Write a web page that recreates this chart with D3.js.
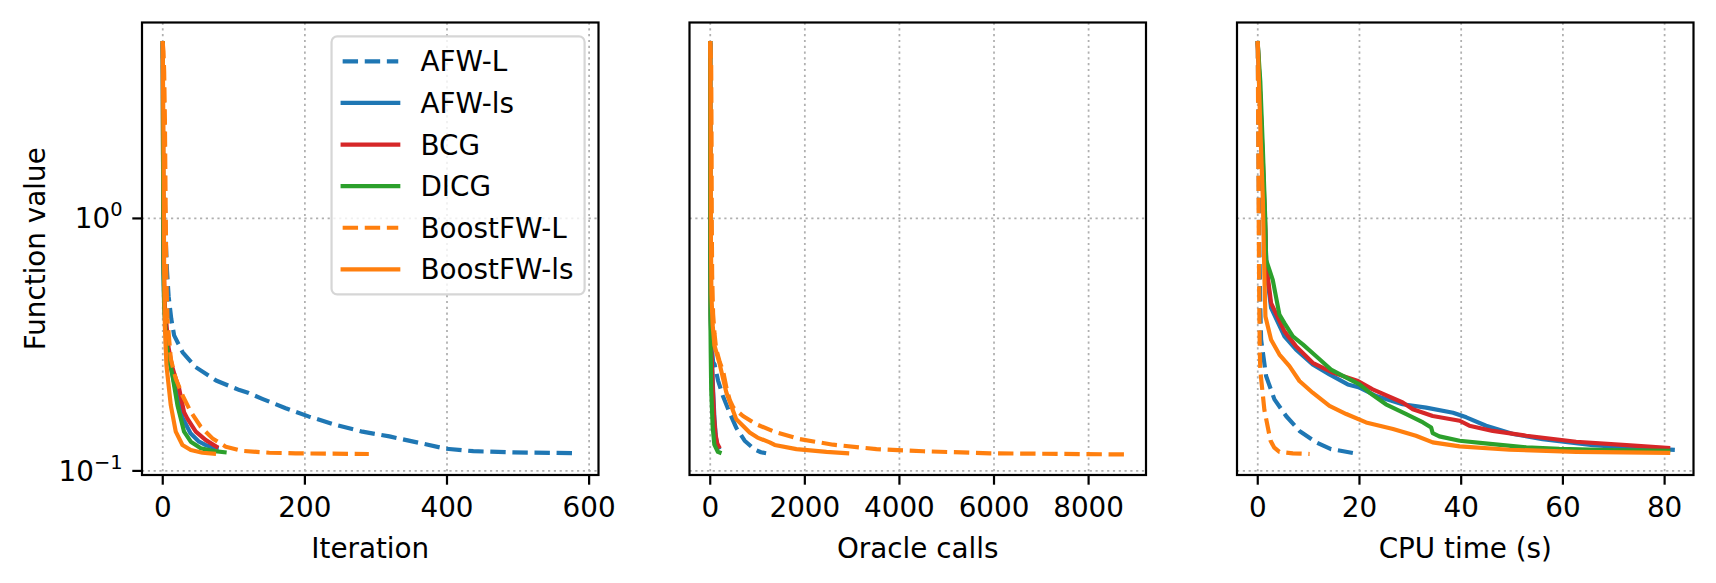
<!DOCTYPE html>
<html><head><meta charset="utf-8">
<script src="https://cdn.jsdelivr.net/npm/d3@7"></script>
<style>
body{margin:0;background:#fff}
svg{display:block}
text{font-family:"DejaVu Sans",sans-serif;fill:#000}
</style>
</head><body>
<svg id="c" width="1716" height="583"></svg>
<script>
// ---------------- data ----------------
const seriesNames  = ["AFW-L","AFW-ls","BCG","DICG","BoostFW-L","BoostFW-ls"];
const seriesColors = ["#1f77b4","#1f77b4","#d62728","#2ca02c","#ff7f0e","#ff7f0e"];
const seriesDashed = [true,false,false,false,true,false];

// Panel 1: function value vs iteration
const afwL_iter = [[0,4.95],[1,2.6],[2,1.6],[4,0.85],[6,0.62],[8.3,0.49],[12,0.40],[16,0.344],[28,0.295],[46,0.258],[75,0.228],[108,0.209],[120,0.204],[140,0.193],[173,0.177],[206,0.164],[244,0.152],[281,0.143],[319,0.137],[356,0.130],[398,0.1225],[437,0.1197],[493,0.1184],[584,0.1175]];
const afwLs_iter = [[0,4.95],[0.5,1.3],[1,0.6],[2,0.45],[4,0.36],[8,0.29],[13,0.245],[18,0.21],[23,0.183],[28,0.162],[39,0.141],[51,0.1305],[62,0.126],[68,0.1245],[76,0.1236]];
const bcg_iter = [[0,4.95],[0.5,1.5],[1,0.69],[3,0.45],[8,0.31],[13,0.26],[18.3,0.232],[23,0.212],[30,0.171],[34.7,0.161],[46.5,0.143],[60.6,0.1324],[75.6,0.1247]];
const dicg_iter = [[0,4.95],[0.5,1.4],[1,0.65],[2,0.45],[4,0.36],[6,0.31],[8.9,0.278],[13.6,0.239],[20.7,0.182],[30,0.143],[39.4,0.1305],[53.5,0.1229],[70,0.12],[87,0.1185]];
const boostL_iter = [[0,4.95],[1,4.6],[2,3.8],[3,2.5],[4,1.2],[5,0.6],[6.6,0.4],[11.3,0.278],[18.3,0.232],[27.7,0.1994],[39.4,0.1714],[53.5,0.1496],[70,0.1345],[88.7,0.1247],[112,0.12],[150,0.118],[187,0.1174],[234,0.117],[290,0.1167]];
const boostLs_iter = [[0,4.95],[1,2.0],[2,0.6],[3,0.37],[5.2,0.262],[11.3,0.182],[18.3,0.143],[27.7,0.1266],[39.4,0.121],[55.9,0.118],[72,0.117]];

// Panel 2: function value vs oracle calls
const afwL_oracle = [[0,4.95],[10,2.0],[20,0.9],[30,0.5],[40,0.3],[60,0.27],[92,0.264],[165,0.228],[268,0.198],[410,0.170],[551,0.148],[727,0.1317],[939,0.1215],[1072,0.1185],[1181,0.1175]];
const afwLs_oracle = [[0,4.95],[2,0.6],[10,0.4],[30,0.3],[60,0.21],[90,0.16],[120,0.135],[150,0.126],[175,0.1236]];
const bcg_oracle = [[0,4.95],[2,0.69],[10,0.42],[25,0.3],[50,0.22],[80,0.165],[110,0.14],[150,0.128],[182,0.1247]];
const dicg_oracle = [[0,4.95],[1,0.65],[3,0.41],[10,0.295],[20,0.21],[51,0.15],[87,0.127],[160,0.119],[197,0.1183]];
const boostL_oracle = [[0,4.95],[20,4.0],[28,2.0],[32,1.0],[40,0.6],[60,0.42],[90,0.35],[124,0.305],[200,0.27],[270,0.249],[350,0.21],[416,0.19],[488,0.178],[692,0.165],[974,0.153],[1398,0.142],[1892,0.1336],[2598,0.127],[3516,0.122],[4504,0.1196],[5916,0.1174],[8775,0.1162]];
const boostLs_oracle = [[0,4.95],[8,2.0],[15,0.8],[25,0.5],[50,0.38],[87,0.315],[197,0.266],[339,0.205],[488,0.172],[551,0.160],[707,0.150],[833,0.142],[999,0.1355],[1257,0.1297],[1363,0.1267],[1822,0.122],[2457,0.119],[2894,0.1175]];

// Panel 3: function value vs CPU time (s)
const afwL_time = [[0,4.95],[0.15,2.0],[0.3,0.8],[0.5,0.45],[0.66,0.331],[1.64,0.2375],[3.28,0.192],[5.57,0.165],[8.2,0.144],[11.5,0.1297],[14.4,0.122],[18.7,0.1178]];
const afwLs_time = [[0,4.95],[0.5,3.0],[1,1.6],[1.5,0.85],[1.8,0.6],[2.62,0.442],[5.25,0.341],[7.5,0.303],[10.8,0.264],[14.1,0.241],[17.7,0.220],[20,0.2138],[23.3,0.198],[28.5,0.1836],[33.1,0.178],[38.4,0.170],[41,0.163],[44.9,0.151],[50.2,0.140],[56,0.1336],[65.9,0.1265],[72.5,0.124],[81.6,0.1213]];
const bcg_time = [[0,4.95],[0.5,3.0],[1,1.7],[1.5,0.9],[1.64,0.665],[2.62,0.462],[5.25,0.357],[7.5,0.312],[10.8,0.268],[14.75,0.245],[19.7,0.227],[22.6,0.2104],[28.5,0.1866],[30.5,0.1755],[34.4,0.165],[39.7,0.158],[41.6,0.151],[46.2,0.144],[52.8,0.1378],[62.6,0.1305],[72.5,0.1265],[80.7,0.1233]];
const dicg_time = [[0,4.95],[0.5,3.5],[1,1.9],[1.5,0.96],[1.64,0.685],[2.95,0.571],[4.26,0.416],[5.25,0.385],[6.9,0.341],[8.85,0.317],[11.1,0.289],[14.4,0.252],[17.4,0.234],[20,0.220],[22,0.204],[25.2,0.1836],[29.2,0.168],[32.5,0.1556],[34.1,0.1486],[34.4,0.141],[35.7,0.137],[39.7,0.1316],[46.2,0.1277],[52.8,0.124],[59.3,0.1222],[69.2,0.121],[80.7,0.1202]];
const boostL_time = [[0,4.95],[0.1,2.0],[0.2,0.9],[0.3,0.45],[0.4,0.3],[0.5,0.25],[1.31,0.174],[2.5,0.132],[3.2,0.124],[4.26,0.119],[6.9,0.1174],[10.2,0.1167]];
const boostLs_time = [[0,4.95],[0.6,2.0],[1.0,1.2],[1.3,0.6],[1.51,0.409],[2.62,0.331],[4.26,0.289],[6.23,0.260],[8.2,0.227],[10.8,0.204],[14.1,0.1808],[17.4,0.168],[21.3,0.1556],[26.6,0.1465],[31.1,0.1378],[34.4,0.1297],[39.7,0.125],[49.5,0.1213],[62.6,0.119],[80.7,0.1178]];

const xLabels = ["Iteration","Oracle calls","CPU time (s)"];
const iterTicks = [0,200,400,600];
const oracleTicks = [0,2000,4000,6000,8000];
const timeTicks = [0,20,40,60,80];
const yTicks = [0.1, 1];
const yTickExponents = ["\u22121","0"];
const yLabel = "Function value";

// ---------------- layout ----------------
const FS = 27.8, LW = 4.17, SW = 2.2, TL = 9.7, PAD = 9.7;
const axTop = 22.5, axBottom = 475;
const lefts = [142, 689.5, 1237], W = 456.5;
const svg = d3.select("#c");

const panels = [
  {series:[afwL_iter,afwLs_iter,bcg_iter,dicg_iter,boostL_iter,boostLs_iter], ticks:iterTicks},
  {series:[afwL_oracle,afwLs_oracle,bcg_oracle,dicg_oracle,boostL_oracle,boostLs_oracle], ticks:oracleTicks},
  {series:[afwL_time,afwLs_time,bcg_time,dicg_time,boostL_time,boostLs_time], ticks:timeTicks}
];

// shared log y scale with matplotlib-like 5% margins (in log space)
const allY = panels.flatMap(p => p.series.flat().map(d => d[1]));
const lmin = Math.log10(d3.min(allY)), lmax = Math.log10(d3.max(allY));
const lm = (lmax - lmin) * 0.05;
const y = d3.scaleLog().domain([10**(lmin-lm), 10**(lmax+lm)]).range([axBottom, axTop]);

panels.forEach((p, i) => {
  const L = lefts[i];
  const M = d3.max(p.series.flat().map(d => d[0]));
  const x = d3.scaleLinear().domain([-0.05*M, 1.05*M]).range([L, L+W]);
  const g = svg.append("g");
  const cid = "clip"+i;
  svg.append("clipPath").attr("id", cid).append("rect")
     .attr("x", L).attr("y", axTop).attr("width", W).attr("height", axBottom-axTop);

  // grid
  const grid = g.append("g").attr("stroke","#b0b0b0").attr("stroke-width",SW*0.8)
     .attr("stroke-dasharray","2.2,3.6").attr("fill","none");
  p.ticks.forEach(t => grid.append("line").attr("x1",x(t)).attr("x2",x(t)).attr("y1",axTop).attr("y2",axBottom));
  yTicks.forEach(t => grid.append("line").attr("x1",L).attr("x2",L+W).attr("y1",y(t)).attr("y2",y(t)));

  // lines
  const line = d3.line().x(d => x(d[0])).y(d => y(d[1]));
  const lg = g.append("g").attr("clip-path", `url(#${cid})`);
  p.series.forEach((s, k) => {
    lg.append("path").attr("d", line(s)).attr("fill","none")
      .attr("stroke", seriesColors[k]).attr("stroke-width", LW)
      .attr("stroke-linejoin","round")
      .attr("stroke-linecap", seriesDashed[k] ? "butt" : "square")
      .attr("stroke-dasharray", seriesDashed[k] ? "15.4,6.7" : null);
  });

  // spines
  g.append("rect").attr("x",L).attr("y",axTop).attr("width",W).attr("height",axBottom-axTop)
   .attr("fill","none").attr("stroke","#000").attr("stroke-width",SW);

  // x ticks + labels
  p.ticks.forEach(t => {
    g.append("line").attr("x1",x(t)).attr("x2",x(t)).attr("y1",axBottom).attr("y2",axBottom+TL)
     .attr("stroke","#000").attr("stroke-width",SW);
    g.append("text").attr("x",x(t)).attr("y",517).attr("text-anchor","middle")
     .attr("font-size",FS).text(d3.format("d")(t));
  });
  g.append("text").attr("x",L+W/2).attr("y",558).attr("text-anchor","middle")
   .attr("font-size",FS).text(xLabels[i]);

  // y ticks (only on the first panel)
  if (i === 0) {
    yTicks.forEach((t, k) => {
      g.append("line").attr("x1",L-TL).attr("x2",L).attr("y1",y(t)).attr("y2",y(t))
       .attr("stroke","#000").attr("stroke-width",SW);
      const tx = g.append("text").attr("x",L-TL-PAD).attr("y",y(t)+10).attr("text-anchor","end")
        .attr("font-size",FS);
      tx.append("tspan").text("10");
      tx.append("tspan").attr("dy",-12).attr("font-size",FS*0.7).text(yTickExponents[k]);
    });
  }
});

// y label
svg.append("text").attr("transform",`translate(45,${(axTop+axBottom)/2}) rotate(-90)`)
  .attr("text-anchor","middle").attr("font-size",FS).text(yLabel);

// legend (upper right of panel 1)
const lgd = svg.append("g");
const rowH = 41.6, bp = 11.1, hl = 55.6, hp = 22.2;
const legRight = lefts[0] + W - 13.9, legTop = axTop + 13.9;
const frame = lgd.append("rect");
const texts = [];
seriesNames.forEach((n, k) => {
  const cy = legTop + bp + 13.85 + k*rowH;
  texts.push(lgd.append("text").attr("y", cy+10).attr("font-size",FS).text(n));
});
const tw = d3.max(texts.map(t => t.node().getComputedTextLength()));
const legW = bp + hl + hp + tw + bp;
const legL = legRight - legW;
const legH = 2*bp + 6*27.7 + 5*13.9;
frame.attr("x",legL).attr("y",legTop).attr("width",legW).attr("height",legH)
  .attr("rx",5.6).attr("ry",5.6).attr("fill","#fff").attr("fill-opacity",0.8)
  .attr("stroke","#d6d6d6").attr("stroke-width",SW);
texts.forEach(t => t.attr("x", legL + bp + hl + hp));
seriesNames.forEach((n, k) => {
  const cy = legTop + bp + 13.85 + k*rowH;
  lgd.append("line").attr("x1",legL+bp).attr("x2",legL+bp+hl).attr("y1",cy).attr("y2",cy)
    .attr("stroke",seriesColors[k]).attr("stroke-width",LW)
    .attr("stroke-linecap", seriesDashed[k] ? "butt" : "square")
    .attr("stroke-dasharray", seriesDashed[k] ? "15.4,6.7" : null);
});
</script>
</body></html>
